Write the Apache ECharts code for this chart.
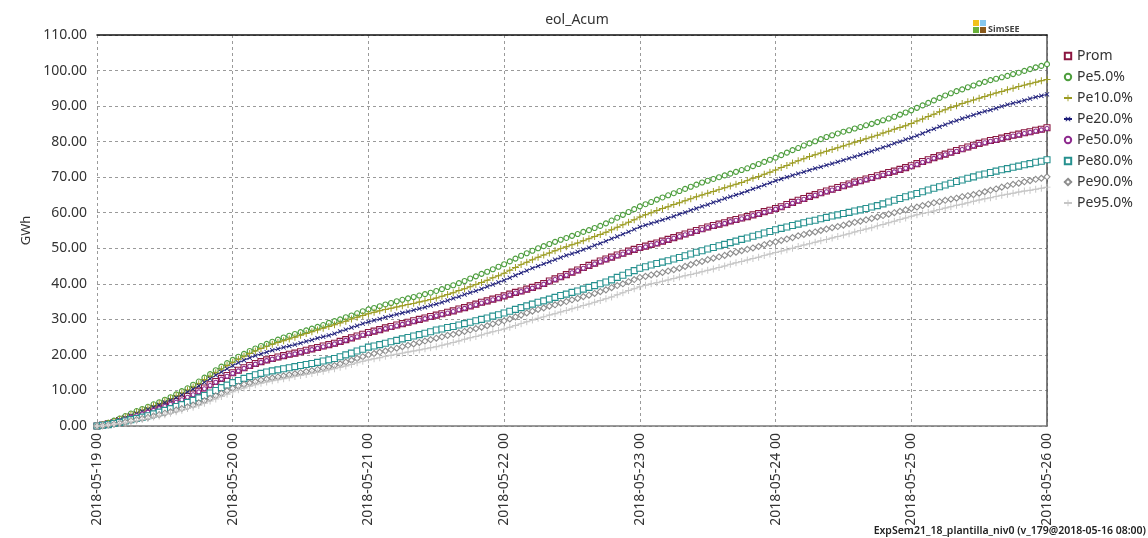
<!DOCTYPE html>
<html>
<head>
<meta charset="utf-8">
<script src="https://cdn.jsdelivr.net/npm/echarts@6/dist/echarts.min.js"></script>
<style>html,body{margin:0;padding:0;background:#fff;}#c{width:1148px;height:538px;}</style>
</head>
<body>
<div id="c"></div>
<script>
// Hourly samples from 2018-05-19 00 to 2018-05-26 00
const STEP_HOURS = 1;
const tickLabels = ['2018-05-19 00','2018-05-20 00','2018-05-21 00','2018-05-22 00','2018-05-23 00','2018-05-24 00','2018-05-25 00','2018-05-26 00'];
const yTicks = [0,10,20,30,40,50,60,70,80,90,100,110];
const seriesNames = ['Prom','Pe5.0%','Pe10.0%','Pe20.0%','Pe50.0%','Pe80.0%','Pe90.0%','Pe95.0%'];

const prom = [0,0.3,0.6,1.0,1.5,2.0,2.6,3.0,3.5,4.0,4.5,5.0,5.6,
 6.2,6.9,7.6,8.3,9.0,9.8,10.7,11.6,12.5,13.4,14.2,15.0,
 15.7,16.4,17.0,17.6,18.1,18.6,19.0,19.4,19.8,20.2,20.5,20.9,
 21.3,21.7,22.1,22.5,22.9,23.3,23.8,24.3,24.8,25.3,25.8,26.3,
 26.7,27.1,27.6,28.0,28.4,28.8,29.2,29.6,30.0,30.4,30.8,31.2,
 31.6,32.0,32.4,32.9,33.3,33.8,34.3,34.8,35.2,35.7,36.1,36.6,
 37.1,37.6,38.0,38.5,39.0,39.5,40.1,40.8,41.4,42.0,42.6,43.3,
 43.9,44.6,45.2,45.8,46.4,47.0,47.5,48.1,48.6,49.2,49.7,50.2,
 50.6,51.1,51.5,52.0,52.5,53.0,53.5,54.0,54.5,55.0,55.5,56.0,
 56.4,56.8,57.2,57.7,58.1,58.5,58.9,59.4,59.8,60.3,60.7,61.2,
 61.7,62.3,62.9,63.5,64.0,64.6,65.1,65.6,66.1,66.6,67.1,67.6,
 68.1,68.6,69.0,69.5,69.9,70.4,70.8,71.3,71.7,72.2,72.7,73.2,
 73.8,74.4,74.9,75.5,76.0,76.5,77.0,77.5,78.0,78.5,79.0,79.5,
 79.9,80.3,80.6,81.0,81.4,81.8,82.1,82.5,82.8,83.2,83.5,83.9];
const pe5 = [0,0.4,0.9,1.5,2.1,2.8,3.5,4.2,4.8,5.4,6.1,6.7,7.4,
 8.1,8.9,9.8,10.6,11.6,12.5,13.6,14.6,15.7,16.7,17.7,18.6,
 19.5,20.3,21.1,21.8,22.5,23.1,23.7,24.3,24.9,25.4,25.9,26.4,
 26.9,27.4,27.9,28.4,29.0,29.5,30.0,30.6,31.1,31.7,32.3,32.8,
 33.2,33.7,34.2,34.6,35.1,35.5,35.9,36.3,36.7,37.1,37.5,38.0,
 38.5,39.1,39.6,40.2,40.8,41.5,42.1,42.8,43.4,44.1,44.8,45.5,
 46.3,47.1,47.9,48.6,49.3,50.0,50.6,51.2,51.8,52.4,52.9,53.5,
 54.0,54.6,55.1,55.7,56.3,57.0,57.8,58.6,59.4,60.2,61.0,61.8,
 62.4,63.0,63.7,64.3,64.9,65.5,66.1,66.7,67.3,67.9,68.5,69.0,
 69.5,70.0,70.5,71.0,71.5,72.0,72.5,73.1,73.7,74.3,74.9,75.5,
 76.2,76.9,77.6,78.2,78.9,79.5,80.1,80.7,81.3,81.8,82.3,82.8,
 83.2,83.7,84.1,84.6,85.0,85.5,86.0,86.5,87.0,87.6,88.2,88.8,
 89.5,90.2,90.9,91.6,92.3,93.0,93.6,94.2,94.7,95.3,95.8,96.4,
 96.8,97.3,97.7,98.1,98.5,99.0,99.4,99.9,100.4,100.9,101.3,101.8];
const pe10 = [0,0.4,0.8,1.3,1.9,2.5,3.2,3.9,4.5,5.1,5.7,6.3,7.0,
 7.7,8.5,9.3,10.1,11.0,11.9,13.0,14.0,15.0,16.0,17.0,17.9,
 18.8,19.6,20.4,21.1,21.8,22.4,23.0,23.5,24.0,24.5,25.0,25.5,
 26.0,26.5,27.0,27.5,28.0,28.5,29.0,29.5,30.1,30.6,31.1,31.6,
 32.0,32.4,32.8,33.1,33.5,33.8,34.2,34.5,34.9,35.2,35.6,36.0,
 36.5,37.0,37.5,38.1,38.6,39.2,39.8,40.4,41.0,41.7,42.3,43.0,
 43.8,44.6,45.4,46.1,46.8,47.5,48.1,48.7,49.3,49.9,50.4,51.0,
 51.5,52.1,52.7,53.3,53.9,54.5,55.2,55.9,56.6,57.3,58.0,58.8,
 59.4,60.0,60.6,61.2,61.7,62.3,62.8,63.4,63.9,64.5,65.0,65.5,
 66.0,66.5,67.0,67.5,68.0,68.5,69.1,69.7,70.2,70.8,71.4,72.0,
 72.7,73.3,74.0,74.6,75.2,75.8,76.3,76.8,77.3,77.8,78.3,78.8,
 79.3,79.8,80.3,80.8,81.3,81.8,82.4,82.9,83.5,84.0,84.5,85.1,
 85.8,86.4,87.1,87.7,88.4,89.0,89.6,90.1,90.7,91.2,91.7,92.2,
 92.7,93.2,93.7,94.1,94.6,95.0,95.5,95.9,96.3,96.7,97.1,97.5];
const pe20 = [0,0.3,0.7,1.2,1.7,2.3,2.9,3.5,4.1,4.7,5.3,5.9,6.6,
 7.3,8.0,8.8,9.6,10.4,11.3,12.3,13.3,14.3,15.2,16.1,17.0,
 17.8,18.5,19.2,19.8,20.3,20.8,21.3,21.7,22.1,22.5,22.9,23.3,
 23.8,24.2,24.7,25.1,25.5,26.0,26.6,27.1,27.7,28.2,28.8,29.3,
 29.7,30.1,30.6,31.0,31.4,31.8,32.2,32.6,33.0,33.4,33.9,34.3,
 34.8,35.3,35.9,36.4,37.0,37.5,38.0,38.6,39.2,39.8,40.4,41.0,
 41.7,42.4,43.1,43.7,44.4,45.0,45.6,46.2,46.8,47.4,48.0,48.5,
 49.0,49.6,50.2,50.8,51.4,52.0,52.7,53.3,54.0,54.6,55.3,56.0,
 56.5,57.0,57.5,58.0,58.5,59.0,59.6,60.1,60.7,61.2,61.8,62.3,
 62.9,63.4,64.0,64.5,65.0,65.5,66.1,66.7,67.2,67.8,68.4,69.0,
 69.5,70.0,70.5,71.0,71.5,72.0,72.5,72.9,73.4,73.8,74.3,74.8,
 75.3,75.8,76.3,76.8,77.3,77.8,78.4,78.9,79.5,80.0,80.6,81.1,
 81.7,82.3,83.0,83.6,84.2,84.8,85.4,85.9,86.5,87.0,87.5,88.0,
 88.5,88.9,89.4,89.9,90.4,90.8,91.2,91.6,92.1,92.5,92.9,93.3];
const pe50 = [0,0.3,0.6,1.0,1.4,1.9,2.5,2.9,3.4,3.9,4.4,4.9,5.5,
 6.1,6.7,7.4,8.1,8.8,9.6,10.5,11.4,12.3,13.2,14.0,14.8,
 15.5,16.2,16.8,17.4,17.9,18.4,18.8,19.2,19.6,20.0,20.3,20.7,
 21.1,21.5,21.9,22.3,22.7,23.1,23.6,24.1,24.6,25.1,25.6,26.1,
 26.5,26.9,27.4,27.8,28.2,28.6,29.0,29.4,29.8,30.2,30.6,31.0,
 31.4,31.8,32.2,32.7,33.1,33.6,34.1,34.6,35.0,35.5,35.9,36.4,
 36.9,37.4,37.8,38.3,38.8,39.3,39.9,40.6,41.2,41.8,42.4,43.1,
 43.7,44.4,45.0,45.6,46.2,46.8,47.3,47.9,48.4,49.0,49.5,50.0,
 50.4,50.9,51.3,51.8,52.3,52.8,53.3,53.8,54.3,54.8,55.3,55.8,
 56.2,56.6,57.0,57.5,57.9,58.3,58.7,59.2,59.6,60.1,60.5,61.0,
 61.5,62.1,62.7,63.3,63.8,64.4,64.9,65.4,65.9,66.4,66.9,67.4,
 67.9,68.4,68.8,69.3,69.7,70.2,70.6,71.1,71.5,72.0,72.5,73.0,
 73.6,74.2,74.7,75.3,75.8,76.3,76.8,77.3,77.8,78.3,78.8,79.3,
 79.7,80.1,80.4,80.8,81.2,81.6,81.9,82.3,82.6,83.0,83.3,83.7];
const pe80 = [0,0.2,0.4,0.7,1.0,1.4,1.8,2.1,2.5,2.9,3.4,3.9,4.4,
 4.9,5.5,6.0,6.6,7.2,7.9,8.6,9.3,10.0,10.8,11.5,12.2,
 12.8,13.4,13.9,14.4,14.8,15.2,15.5,15.8,16.1,16.4,16.7,17.0,
 17.3,17.6,17.9,18.3,18.6,19.0,19.5,20.0,20.5,21.1,21.6,22.2,
 22.5,22.9,23.3,23.7,24.1,24.5,24.9,25.3,25.7,26.1,26.5,27.0,
 27.3,27.7,28.0,28.4,28.8,29.2,29.6,30.0,30.4,30.9,31.3,31.8,
 32.3,32.8,33.3,33.8,34.3,34.8,35.2,35.7,36.2,36.7,37.1,37.6,
 38.0,38.5,39.0,39.5,40.0,40.5,41.1,41.8,42.4,43.1,43.7,44.4,
 44.8,45.3,45.7,46.1,46.5,47.0,47.4,47.9,48.4,48.9,49.3,49.8,
 50.2,50.7,51.1,51.6,52.0,52.5,52.9,53.4,53.8,54.3,54.7,55.2,
 55.6,56.0,56.4,56.8,57.2,57.6,57.9,58.3,58.7,59.1,59.4,59.8,
 60.1,60.5,60.8,61.2,61.6,62.0,62.5,63.0,63.5,64.0,64.5,65.0,
 65.4,65.9,66.4,66.9,67.3,67.8,68.3,68.8,69.2,69.7,70.1,70.6,
 70.9,71.3,71.7,72.1,72.4,72.8,73.1,73.5,73.8,74.2,74.5,74.9];
const pe90 = [0,0.1,0.3,0.5,0.8,1.1,1.5,1.8,2.1,2.4,2.8,3.2,3.6,
 4.0,4.5,4.9,5.4,5.9,6.5,7.1,7.8,8.5,9.2,9.9,10.6,
 11.2,11.7,12.1,12.5,12.9,13.2,13.5,13.8,14.1,14.4,14.7,15.0,
 15.3,15.6,15.9,16.3,16.6,17.0,17.5,18.0,18.5,19.0,19.5,20.0,
 20.4,20.8,21.1,21.5,21.9,22.3,22.7,23.1,23.5,23.9,24.3,24.7,
 25.1,25.5,25.8,26.2,26.6,27.0,27.4,27.8,28.2,28.7,29.1,29.6,
 30.1,30.7,31.2,31.8,32.3,32.8,33.2,33.7,34.1,34.6,35.0,35.5,
 35.9,36.4,36.8,37.3,37.8,38.3,38.9,39.5,40.0,40.6,41.2,41.8,
 42.1,42.5,42.8,43.2,43.6,44.0,44.4,44.9,45.4,45.9,46.3,46.8,
 47.2,47.6,48.0,48.5,48.9,49.3,49.7,50.1,50.5,51.0,51.4,51.8,
 52.2,52.6,53.0,53.5,53.9,54.3,54.6,55.0,55.4,55.8,56.1,56.5,
 56.9,57.3,57.6,58.0,58.4,58.8,59.2,59.6,60.0,60.4,60.8,61.2,
 61.6,62.0,62.4,62.8,63.1,63.5,63.8,64.1,64.5,64.8,65.1,65.5,
 65.9,66.3,66.7,67.2,67.6,68.0,68.3,68.7,69.0,69.4,69.7,70.1];
const pe95 = [0,0.1,0.3,0.5,0.7,0.9,1.2,1.5,1.8,2.1,2.5,2.8,3.2,
 3.6,4.0,4.4,4.9,5.3,5.8,6.4,7.0,7.6,8.3,8.9,9.6,
 10.2,10.7,11.2,11.6,12.0,12.4,12.7,13.0,13.3,13.6,13.9,14.2,
 14.5,14.8,15.1,15.4,15.8,16.1,16.5,16.9,17.3,17.8,18.2,18.6,
 18.9,19.2,19.6,19.9,20.2,20.5,20.8,21.1,21.4,21.7,22.0,22.3,
 22.7,23.1,23.5,23.9,24.4,24.8,25.2,25.6,26.1,26.5,26.9,27.3,
 27.8,28.3,28.8,29.3,29.8,30.3,30.7,31.2,31.6,32.1,32.5,33.0,
 33.4,33.9,34.3,34.8,35.3,35.8,36.3,36.9,37.5,38.1,38.6,39.2,
 39.6,40.0,40.3,40.7,41.1,41.5,41.9,42.3,42.6,43.0,43.4,43.8,
 44.2,44.6,45.0,45.5,45.9,46.3,46.7,47.1,47.5,48.0,48.4,48.8,
 49.2,49.6,50.0,50.5,50.9,51.3,51.7,52.1,52.5,52.9,53.3,53.7,
 54.1,54.6,55.0,55.4,55.8,56.3,56.7,57.2,57.6,58.1,58.5,59.0,
 59.4,59.8,60.1,60.5,60.9,61.3,61.7,62.1,62.4,62.8,63.2,63.6,
 63.9,64.2,64.6,64.9,65.2,65.5,65.8,66.1,66.3,66.6,66.9,67.2];

const seriesValues = [prom, pe5, pe10, pe20, pe50, pe80, pe90, pe95];
const colors = ['#8B1640','#4E9E3E','#9C9C22','#1E1E7A','#8E2A8E','#26918F','#8E8E8E','#C6C6C6'];
const PLUS = 'path://M4.3,0H5.7V4.3H10V5.7H5.7V10H4.3V5.7H0V4.3H4.3Z';
const symbols = ['rect','circle',PLUS,PLUS,'circle','rect','diamond',PLUS];
const rotations = [0,0,0,45,0,0,0,0];
const hollow = [true,true,false,false,true,true,true,false];
const sizes = [6,5,7,6,4,6,6,7];

const FONT = 'Noto Sans';
const chart = echarts.init(document.getElementById('c'), null, {renderer:'canvas'});

const series = seriesNames.map((name, k) => ({
  name,
  type: 'line',
  data: seriesValues[k].map((v, i) => [i * STEP_HOURS, v]),
  symbol: symbols[k],
  symbolSize: sizes[k],
  symbolRotate: rotations[k],
  showAllSymbol: true,
  lineStyle: {color: colors[k], width: 1},
  itemStyle: hollow[k]
    ? {color: '#ffffff', borderColor: colors[k], borderWidth: 1.1}
    : {color: colors[k], borderColor: colors[k], borderWidth: 0},
  emphasis: {disabled: true},
  z: 2
}));

chart.setOption({
  animation: false,
  backgroundColor: '#ffffff',
  title: {
    text: 'eol_Acum', left: 572, textAlign: 'center', top: 8,
    textStyle: {fontFamily: FONT, fontSize: 14, fontWeight: 'normal', color: '#333'}
  },
  legend: {
    orient: 'vertical', left: 1058, top: 44,
    itemWidth: 8, itemHeight: 8, itemGap: 7,
    textStyle: {fontFamily: FONT, fontSize: 14, color: '#333', lineHeight: 14},
    data: seriesNames
  },
  grid: {left: 97, right: 101, top: 35, bottom: 112},
  xAxis: [{
    type: 'value', min: 0, max: 168, interval: 24,
    axisLine: {show: true, lineStyle: {color: '#7a7a7a', width: 1.5}},
    axisTick: {show: false},
    axisLabel: {
      rotate: 90, margin: 7, color: '#333', fontFamily: FONT, fontSize: 14,
      formatter: v => tickLabels[Math.round(v / 24)]
    },
    splitLine: {show: true, lineStyle: {color: '#9a9a9a', type: [3, 3], width: 1}}
  }, {
    type: 'value', position: 'top', min: 0, max: 168,
    axisLine: {show: true, onZero: false, lineStyle: {color: '#111', width: 1.5}},
    axisTick: {show: false}, axisLabel: {show: false}, splitLine: {show: false}
  }],
  yAxis: [{
    type: 'value', min: yTicks[0], max: yTicks[yTicks.length - 1], interval: 10,
    name: 'GWh', nameLocation: 'middle', nameGap: 60, nameRotate: 90,
    nameTextStyle: {fontFamily: FONT, fontSize: 13, color: '#333'},
    axisLine: {show: false}, axisTick: {show: false},
    axisLabel: {margin: 10, color: '#333', fontFamily: FONT, fontSize: 14, formatter: v => v.toFixed(2)},
    splitLine: {show: true, lineStyle: {color: '#9a9a9a', type: [3, 3], width: 1}}
  }, {
    type: 'value', position: 'right', min: 0, max: 110,
    axisLine: {show: true, onZero: false, lineStyle: {color: '#555', width: 1.5}},
    axisTick: {show: false}, axisLabel: {show: false}, splitLine: {show: false}
  }],
  graphic: [
    {type: 'rect', left: 973, top: 20, shape: {width: 6, height: 6}, style: {fill: '#F2C21B'}},
    {type: 'rect', left: 980, top: 20, shape: {width: 6, height: 6}, style: {fill: '#86C8EE'}},
    {type: 'rect', left: 973, top: 27, shape: {width: 6, height: 6}, style: {fill: '#6AB23A'}},
    {type: 'rect', left: 980, top: 27, shape: {width: 6, height: 6}, style: {fill: '#8A5A1C'}},
    {type: 'text', left: 988, top: 25, style: {text: 'SimSEE', font: 'bold 9px "Noto Sans"', fill: '#444'}},
    {type: 'text', right: 2, top: 526, style: {text: 'ExpSem21_18_plantilla_niv0 (v_179@2018-05-16 08:00)', font: '600 10.5px "Noto Sans"', fill: '#222'}}
  ],
  series
});
</script>
</body>
</html>
